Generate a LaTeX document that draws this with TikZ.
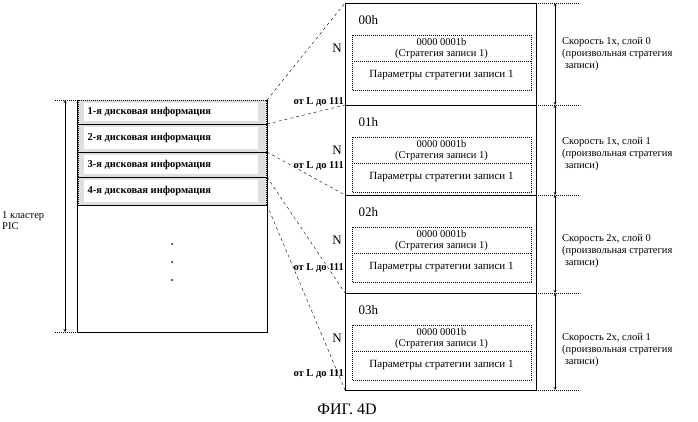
\documentclass[tikz,border=0pt]{standalone}
\usepackage{fontspec}
\setmainfont{Liberation Serif}
\begin{document}
\begin{tikzpicture}[x=1pt,y=-1pt,font=\bfseries\fontsize{10.5}{11}\selectfont,
 blk/.style={draw,line width=0.9pt},
 dbox/.style={draw,dash pattern=on 0.8pt off 1.2pt},
 conn/.style={dashed}]
\useasboundingbox (0,0) rectangle (698,422);
% left cluster box
\draw[line width=0.9pt] (77,100) rectangle (267,332);
\foreach \a/\b/\t [count=\i] in {100/124/1-я,124/152/2-я,152/177/3-я,177/205/4-я}{
  \fill[gray!25] (78,\a) rectangle (266,\b);
  \fill[white] (84,\a+3) rectangle (258,\b-3);
  \draw[dbox] (78,\a) rectangle (266,\b);
  \node[anchor=west] (r\i) at (84,{(\a+\b)/2}) {\t\ дисковая информация};
}
\draw (77,124) -- (267,124) (77,152)--(267,152) (77,177)--(267,177) (77,205)--(267,205);
\foreach \y in {244,262,280} \fill (172,\y) circle (1pt);
\draw[dbox] (55,100) -- (77,100) (55,332)--(77,332);
\draw[<->,>=stealth] (65,100) -- (65,332);
\node[anchor=west,align=left,inner sep=0,font=\mdseries\fontsize{10.5}{11}\selectfont] (pic) at (2,221) {1 кластер\\PIC};
% right blocks
\foreach \t/\b/\h/\i in {3/105/00h/0,105/195/01h/1,195/293/02h/2,293/390/03h/3}{
  \draw[blk] (345,\t) rectangle (536,\b);
  \node[anchor=west,font=\mdseries\fontsize{13}{14}\selectfont] (h\i) at (355,\t+17) {\h};
  \draw[dbox] (352,\t+32) rectangle (531,\t+87);
  \draw[dbox] (352,\t+58) -- (531,\t+58);
  \node[align=center,inner sep=0,font=\mdseries\fontsize{10.5}{11}\selectfont] (c\i) at (441.5,\t+45) {0000 0001b\\(Стратегия записи 1)};
  \node[inner sep=0,font=\mdseries\fontsize{11}{12}\selectfont] (p\i) at (441.5,\t+72) {Параметры стратегии записи 1};
  \node[font=\fontsize{13}{14}\selectfont] (n\i) at (337,\t+45) {N};
  \draw[dbox] (536,\t) -- (580,\t) (536,\b)--(580,\b);
  \draw[<->,>=stealth] (555,\t) -- (555,\b);
}
\coordinate (b0t) at (345,3);\coordinate (b0b) at (345,105);\coordinate (b1b) at (345,195);
\coordinate (b2b) at (345,293);\coordinate (b3b) at (345,390);
\coordinate (l0) at (267,100);\coordinate (l1) at (267,124);\coordinate (l2) at (267,152);
\coordinate (l3) at (267,177);\coordinate (l4) at (267,205);
\draw[conn] (l0)--(b0t) (l1)--(b0b) (l2)--(b1b) (l3)--(b2b) (l4)--(b3b);
\foreach \y/\i in {102/0,166/1,268/2,374/3}
  \node[anchor=east,inner sep=1pt] (L\i) at (345,\y) {от L до 111};
\foreach \y/\s/\i in {37/{Скорость 1x, слой 0}/0,137/{Скорость 1x, слой 1}/1,234/{Скорость 2x, слой 0}/2,333/{Скорость 2x, слой 1}/3}
  \node[anchor=north west,align=left,inner sep=0,font=\mdseries\fontsize{10.5}{12}\selectfont] (s\i) at (562,\y) {\s\\(произвольная стратегия\\\ записи)};
\node[font=\fontsize{16}{17}\selectfont\mdseries] (cap) at (347,409) {ФИГ. 4D};
\end{tikzpicture}
\end{document}
